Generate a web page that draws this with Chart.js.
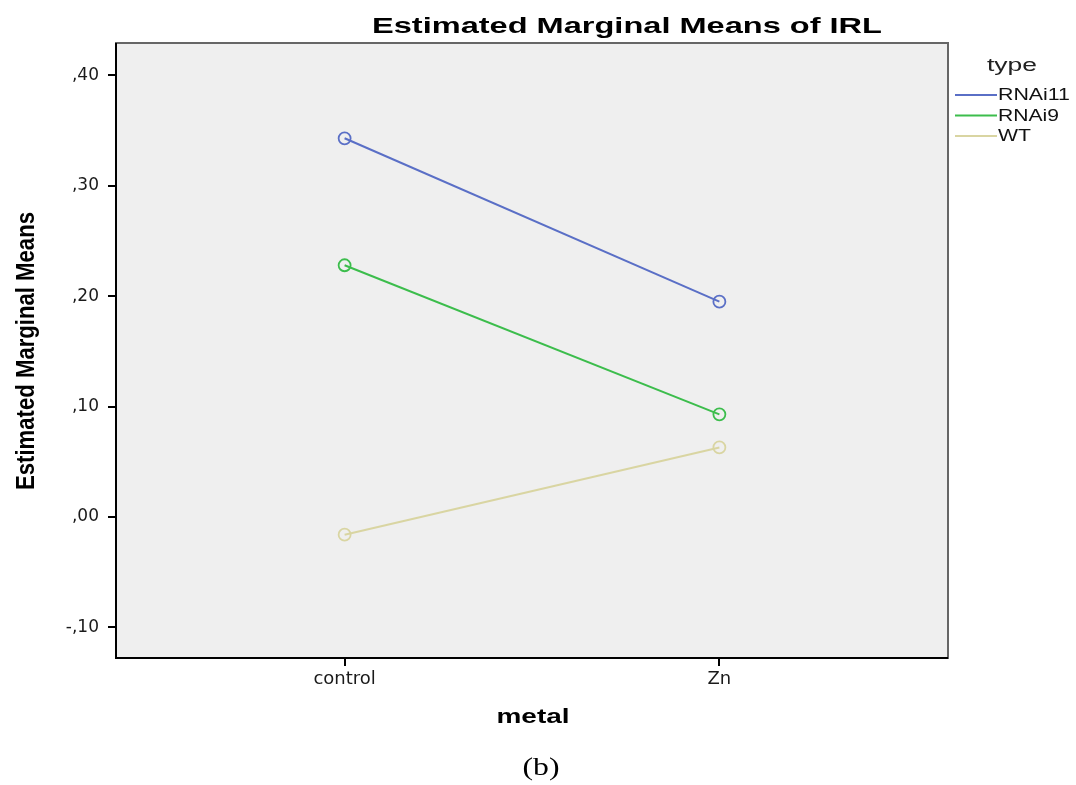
<!DOCTYPE html>
<html>
<head>
<meta charset="utf-8">
<script src="https://cdn.jsdelivr.net/npm/chart.js@4"></script>
<style>
  html, body { margin:0; padding:0; background:#fff; }
  #wrap { width:1076px; height:785px; position:relative; }
</style>
</head>
<body>
<div id="wrap"><canvas id="c" width="1076" height="785"></canvas></div>
<script>
// categories (metal) and series (type)
const metals = ['control', 'Zn'];
const rnai11 = [0.343, 0.195];
const rnai9  = [0.228, 0.093];
const wt     = [-0.016, 0.063];
const yTicks = [-0.1, 0, 0.1, 0.2, 0.3, 0.4];

const colors = { rnai11:'#5a6fc6', rnai9:'#3cbd4c', wt:'#d9d5a2' };

function pts(arr){ return arr.map((v,i) => ({ x:i, y:v })); }
function fmt(v){
  let s = Math.abs(v).toFixed(2).replace('0.', ',');
  return (v < -1e-9 ? '-' : '') + s;
}
function ds(label, arr, col){
  return { label, data: pts(arr), borderColor: col, backgroundColor: 'rgba(0,0,0,0)',
    borderWidth: 2, pointRadius: 6, pointBorderWidth: 1.8, pointBackgroundColor:'rgba(0,0,0,0)',
    pointBorderColor: col, tension: 0 };
}

// draw text stretched to a target width (the original is widened)
function wideText(ctx, txt, x, y, targetW){
  const w = ctx.measureText(txt).width;
  ctx.save();
  ctx.translate(x, y);
  ctx.scale(targetW / w, 1);
  ctx.fillText(txt, 0, 0);
  ctx.restore();
}

const framePlugin = {
  id: 'frame',
  beforeDraw(chart){
    const {ctx, chartArea:a} = chart;
    ctx.save();
    ctx.fillStyle = '#efefef';
    ctx.fillRect(a.left, a.top, a.right - a.left, a.bottom - a.top);
    ctx.strokeStyle = '#666';
    ctx.lineWidth = 2;
    ctx.strokeRect(a.left, a.top, a.right - a.left, a.bottom - a.top);
    ctx.restore();
  },
  afterDraw(chart){
    const {ctx, chartArea:a} = chart;
    ctx.save();
    ctx.strokeStyle = '#000'; ctx.lineWidth = 2;
    ctx.beginPath();
    ctx.moveTo(a.left, a.top); ctx.lineTo(a.left, a.bottom); ctx.lineTo(a.right, a.bottom);
    ctx.stroke();

    ctx.fillStyle = '#000';
    ctx.textBaseline = 'middle';
    ctx.textAlign = 'center';
    ctx.font = 'bold 22px "Liberation Sans", Arial, sans-serif';
    wideText(ctx, 'Estimated Marginal Means of IRL', 627, 27, 510);

    // legend
    ctx.textAlign = 'left';
    ctx.font = '18px "Liberation Sans", Arial, sans-serif';
    ctx.fillStyle = '#222';
    wideText(ctx, 'type', 987, 66, 50);
    ctx.font = '16px "Liberation Sans", Arial, sans-serif';
    const lw = [72, 61, 33];
    chart.data.datasets.forEach((d, i) => {
      const y = 95 + i * 20.5;
      ctx.strokeStyle = d.borderColor; ctx.lineWidth = 2;
      ctx.beginPath(); ctx.moveTo(955, y); ctx.lineTo(997, y); ctx.stroke();
      ctx.fillStyle = '#111';
      wideText(ctx, d.label, 998, y + 1, lw[i]);
    });

    // y axis title (condensed bold)
    ctx.save();
    ctx.translate(27, 351);
    ctx.rotate(-Math.PI / 2);
    ctx.font = 'bold 25px "Liberation Sans Narrow", "Liberation Sans", Arial, sans-serif';
    ctx.textAlign = 'center';
    ctx.fillStyle = '#000';
    wideText(ctx, 'Estimated Marginal Means', 0, 0, 278);
    ctx.restore();

    ctx.textAlign = 'center';
    ctx.fillStyle = '#000';
    ctx.font = 'bold 21px "Liberation Sans", Arial, sans-serif';
    wideText(ctx, 'metal', 533, 717, 73);

    ctx.font = '25px "Liberation Serif", "Times New Roman", serif';
    wideText(ctx, '(b)', 541, 768, 37);
    ctx.restore();
  }
};

new Chart(document.getElementById('c'), {
  type: 'line',
  data: {
    datasets: [
      ds('RNAi11', rnai11, colors.rnai11),
      ds('RNAi9', rnai9, colors.rnai9),
      ds('WT', wt, colors.wt)
    ]
  },
  options: {
    responsive: false,
    animation: false,
    layout: { padding: { left: 0, top: 43, right: 128, bottom: 57 } },
    plugins: { legend: { display: false }, tooltip: { enabled: false } },
    scales: {
      x: {
        type: 'linear', min: -0.61, max: 1.61,
        afterFit: s => { s.height = 70; },
        afterBuildTicks: s => { s.ticks = metals.map((m, i) => ({ value: i })); },
        ticks: { callback: v => metals[v] ?? '', color: '#1a1a1a', padding: 3,
          font: { size: 18, family: '"DejaVu Sans", sans-serif' }, maxRotation: 0 },
        grid: { display: true, drawOnChartArea: false, drawTicks: true, tickLength: 8, color: '#000', lineWidth: 2 },
        border: { display: false }
      },
      y: {
        min: -0.1277, max: 0.4293,
        afterFit: s => { s.width = 116; },
        afterBuildTicks: s => { s.ticks = yTicks.map(v => ({ value: v })); },
        ticks: { callback: v => fmt(v), color: '#1a1a1a', padding: 9,
          font: { size: 17, family: '"DejaVu Sans", sans-serif' } },
        grid: { display: true, drawOnChartArea: false, drawTicks: true, tickLength: 8, color: '#000', lineWidth: 2 },
        border: { display: false }
      }
    }
  },
  plugins: [framePlugin]
});
</script>
</body>
</html>
